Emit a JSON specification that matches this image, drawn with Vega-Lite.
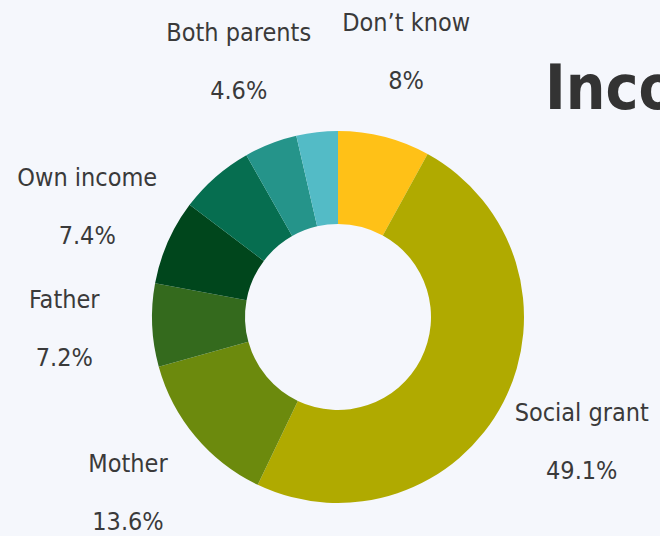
{
  "$schema": "https://vega.github.io/schema/vega-lite/v6.json",
  "width": 676,
  "height": 534,
  "autosize": "none",
  "padding": {"left": 0, "top": 50, "right": 0, "bottom": 0},
  "background": "#F5F7FC",
  "title": {
    "text": "Income source",
    "anchor": "start",
    "frame": "group",
    "dx": 545,
    "dy": 122,
    "font": "DejaVu Sans Condensed",
    "fontWeight": "bold",
    "fontSize": 62,
    "color": "#333333"
  },
  "config": {"view": {"stroke": null}},
  "data": {
    "values": [
      {"order": 1, "source": "Don’t know", "share": 0.08},
      {"order": 2, "source": "Social grant", "share": 0.491},
      {"order": 3, "source": "Mother", "share": 0.136},
      {"order": 4, "source": "Father", "share": 0.072},
      {"order": 5, "source": "Own income", "share": 0.074},
      {"order": 6, "source": "Other relative", "share": 0.065},
      {"order": 7, "source": "Both parents", "share": 0.046},
      {"order": 8, "source": "Other", "share": 0.036}
    ]
  },
  "encoding": {
    "theta": {"field": "share", "type": "quantitative", "stack": true},
    "order": {"field": "order", "type": "quantitative"}
  },
  "layer": [
    {
      "mark": {"type": "arc", "innerRadius": 93, "outerRadius": 186},
      "encoding": {
        "color": {
          "field": "source",
          "type": "nominal",
          "legend": null,
          "scale": {
            "domain": ["Don’t know", "Social grant", "Mother", "Father", "Own income", "Other relative", "Both parents", "Other"],
            "range": ["#FFC117", "#B0AA00", "#6C8A0D", "#346A1D", "#00461C", "#066E50", "#25948A", "#53BBC6"]
          }
        }
      }
    },
    {
      "mark": {"type": "text", "radius": 274, "dy": -29, "font": "DejaVu Sans Condensed", "fontSize": 25, "color": "#3A3A3A", "baseline": "middle", "align": "center"},
      "encoding": {
        "text": {"field": "source", "type": "nominal"},
        "opacity": {"condition": {"test": "datum.source === 'Other' || datum.source === 'Other relative'", "value": 0}, "value": 1}
      }
    },
    {
      "mark": {"type": "text", "radius": 274, "dy": 29, "font": "DejaVu Sans Condensed", "fontSize": 25, "color": "#3A3A3A", "baseline": "middle", "align": "center"},
      "encoding": {
        "text": {"field": "share", "type": "quantitative", "format": ".3~%"},
        "opacity": {"condition": {"test": "datum.source === 'Other' || datum.source === 'Other relative'", "value": 0}, "value": 1}
      }
    }
  ]
}
